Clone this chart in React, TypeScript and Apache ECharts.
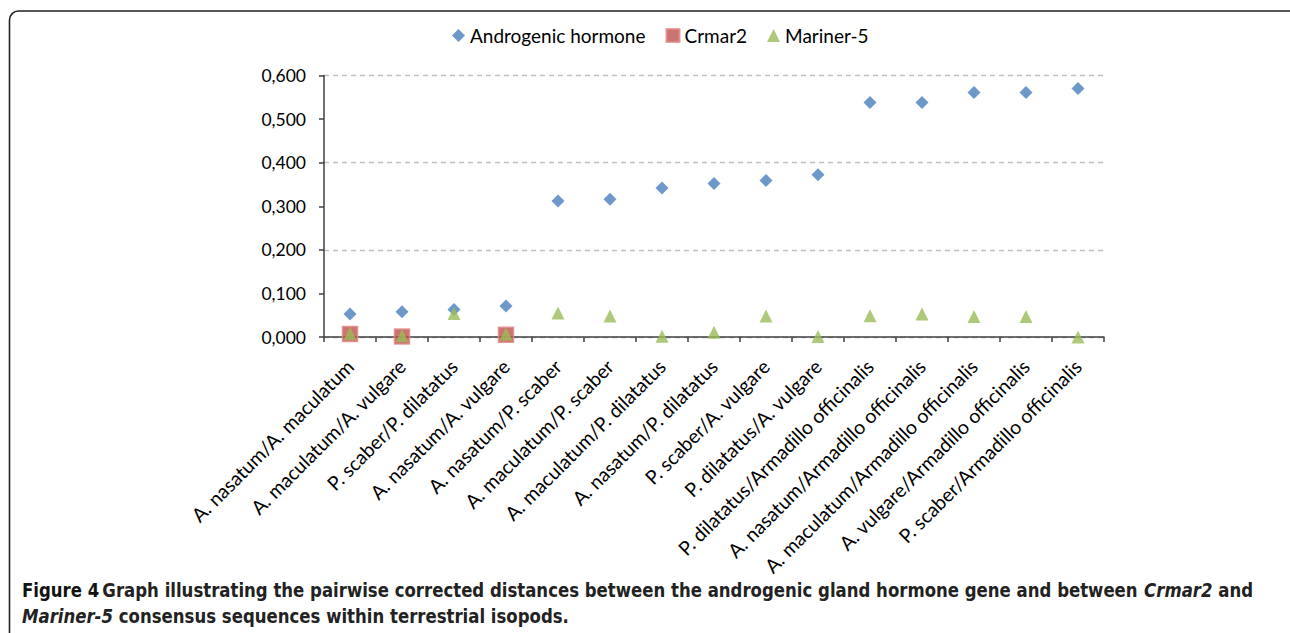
import React, { useEffect, useRef } from "react";
import * as echarts from "echarts";

const categories = [
  "A. nasatum/A. maculatum",
  "A. maculatum/A. vulgare",
  "P. scaber/P. dilatatus",
  "A. nasatum/A. vulgare",
  "A. nasatum/P. scaber",
  "A. maculatum/P. scaber",
  "A. maculatum/P. dilatatus",
  "A. nasatum/P. dilatatus",
  "P. scaber/A. vulgare",
  "P. dilatatus/A. vulgare",
  "P. dilatatus/Armadillo officinalis",
  "A. nasatum/Armadillo officinalis",
  "A. maculatum/Armadillo officinalis",
  "A. vulgare/Armadillo officinalis",
  "P. scaber/Armadillo officinalis",
];

const androgenic = [0.053, 0.058, 0.063, 0.071, 0.312, 0.316, 0.342, 0.352, 0.359, 0.372, 0.538, 0.538, 0.561, 0.561, 0.57];
const crmar2 = [0.007, 0.001, null, 0.005, null, null, null, null, null, null, null, null, null, null, null];
const mariner5 = [0.008, 0.003, 0.054, 0.007, 0.055, 0.048, 0.002, 0.011, 0.048, 0.001, 0.049, 0.053, 0.047, 0.047, 0.0];

const yTicks = [0, 0.1, 0.2, 0.3, 0.4, 0.5, 0.6];

const FONT = "Lato, 'Open Sans', sans-serif";
const CAP_FONT = "'DejaVu Sans Condensed', 'DejaVu Sans', sans-serif";

export default function App() {
  const ref = useRef<HTMLDivElement>(null);
  useEffect(() => {
    if (!ref.current) return;
    const chart = echarts.init(ref.current, null, { renderer: "svg" });
    const capRich = {
      b: { fontFamily: CAP_FONT, fontSize: 20, fontWeight: "bold", fill: "#111" },
      n: { fontFamily: CAP_FONT, fontSize: 20, fontWeight: "bold", fill: "#222" },
      i: { fontFamily: CAP_FONT, fontSize: 20, fontWeight: "bold", fontStyle: "italic", fill: "#222" },
    };
    chart.setOption({
      animation: false,
      backgroundColor: "#ffffff",
      textStyle: { fontFamily: FONT },
      legend: {
        top: 21,
        left: 447,
        itemGap: 20,
        itemWidth: 13,
        itemHeight: 13,
        textStyle: { fontFamily: FONT, fontSize: 19, color: "#000" },
        data: [
          { name: "Androgenic hormone", icon: "diamond" },
          { name: "Crmar2", icon: "rect" },
          { name: "Mariner-5", icon: "triangle" },
        ],
      },
      grid: { left: 324, right: 186, top: 75.5, bottom: 296, containLabel: false },
      xAxis: {
        type: "category",
        data: categories,
        axisLine: { lineStyle: { color: "#404040", width: 1.5 } },
        axisTick: { show: true, length: 5, lineStyle: { color: "#404040", width: 1.5 } },
        axisLabel: { rotate: 45, interval: 0, margin: 26, fontSize: 19.5, color: "#000", fontFamily: FONT },
        splitLine: { show: false },
      },
      yAxis: [
        {
          type: "value",
          min: 0,
          max: 0.6,
          interval: 0.1,
          axisLine: { show: true, lineStyle: { color: "#404040", width: 1.5 } },
          axisTick: { show: true, length: 5, lineStyle: { color: "#404040", width: 1.5 } },
          axisLabel: {
            margin: 18,
            fontSize: 17.5,
            color: "#000",
            fontFamily: FONT,
            formatter: (v: number) => {
              const t = yTicks.find((x) => Math.abs(x - v) < 1e-9);
              return (t ?? v).toFixed(3).replace(".", ",");
            },
          },
          splitLine: { show: false },
        },
        {
          type: "value",
          min: 0,
          max: 0.6,
          interval: 0.2,
          position: "left",
          axisLine: { show: false },
          axisTick: { show: false },
          axisLabel: { show: false },
          splitLine: { show: true, lineStyle: { color: "#c0c0c0", type: [5, 4], width: 1.3 } },
        },
      ],
      series: [
        {
          name: "Androgenic hormone",
          type: "scatter",
          symbol: "diamond",
          symbolSize: 13,
          itemStyle: { color: "#4a7ebb" },
          data: androgenic,
          z: 3,
        },
        {
          name: "Crmar2",
          type: "scatter",
          symbol: "rect",
          symbolSize: 15,
          itemStyle: { color: "#c0504d", borderColor: "#e08a88", borderWidth: 1.5 },
          data: crmar2,
          z: 2,
        },
        {
          name: "Mariner-5",
          type: "scatter",
          symbol: "triangle",
          symbolSize: 13,
          itemStyle: { color: "#9bbb59" },
          data: mariner5,
          z: 4,
        },
      ],
      graphic: [
        {
          type: "rect",
          shape: { x: 9.5, y: 11, width: 1300, height: 640, r: 9 },
          style: { fill: "none", stroke: "#222", lineWidth: 1.6 },
          silent: true,
        },
        {
          type: "text",
          x: 22,
          y: 580,
          scaleX: 0.92,
          style: {
            text: "{b|Figure 4} {n|Graph illustrating the pairwise corrected distances between the androgenic gland hormone gene and between }{i|Crmar2}{n| and}",
            rich: capRich,
          },
        },
        {
          type: "text",
          x: 22,
          y: 606,
          scaleX: 0.92,
          style: {
            text: "{i|Mariner-5}{n| consensus sequences within terrestrial isopods.}",
            rich: capRich,
          },
        },
      ],
    });
    return () => chart.dispose();
  }, []);
  return (
    <div
      ref={ref}
      style={{ position: "absolute", left: 0, top: 0, width: 1290, height: 633 }}
    />
  );
}
